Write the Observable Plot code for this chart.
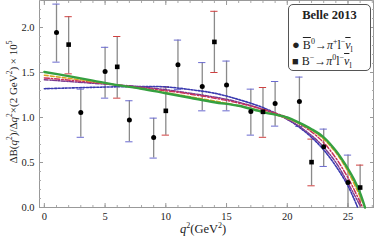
<!DOCTYPE html>
<html><head><meta charset="utf-8">
<script src="https://cdn.jsdelivr.net/npm/d3@7"></script>
<script src="https://cdn.jsdelivr.net/npm/@observablehq/plot@0.6"></script>
<style>
body{margin:0;background:#fff;}
#wrap{position:relative;width:374px;height:244px;font-family:"Liberation Serif",serif;color:#222;}
#legend{position:absolute;left:288px;top:4px;width:83px;height:67px;box-sizing:border-box;border:1px solid #555;border-radius:5px;background:#fff;font-size:12px;}
#legend .t{font-weight:bold;text-align:center;margin-top:4px;font-size:12.5px;line-height:1;}
#legend .r{position:absolute;left:3px;white-space:nowrap;line-height:1;}
#legend sup,#legend sub{font-size:8px;line-height:0;}
#xl{position:absolute;left:180px;top:222px;font-size:12.5px;}
#xl sup{font-size:8px;line-height:0;}
#yl{position:absolute;left:13px;top:102px;font-size:11px;white-space:nowrap;transform:translate(-50%,-50%) rotate(-90deg);}
#yl sup{font-size:7.5px;line-height:0;}
</style></head>
<body><div id="wrap"></div>
<script>
// Belle 2013, B0 -> pi+ l nu (circles)
const b0Q2 = [1,3,5,7,9,11,13,15,17,19,21,23,25];
const b0Val = [1.944,1.056,1.51,0.971,0.778,1.585,1.345,1.36,1.067,1.156,1.178,0.674,0.278];
const b0Hi = [2.26,1.315,1.78,1.186,0.993,1.86,1.61,1.627,1.315,1.40,1.449,0.871,0.582];
const b0Lo = [1.615,0.78,1.215,0.73,0.549,1.31,1.074,1.074,0.804,0.904,0.90,0.456,0.0];
// B- -> pi0 l nu (squares)
const bmQ2 = [2,6,10,14,18,22,26];
const bmVal = [1.81,1.563,1.074,1.84,1.063,0.504,0.222];
const bmHi = [2.12,1.90,1.341,2.18,1.333,0.76,0.471];
const bmLo = [1.485,1.215,0.804,1.50,0.78,0.241,0.0];
// theory curves
const greenQ = [0,2,4,6,8,10,12,14,16,18,20,21,22,23,24,25,25.5,26,26.4];
const greenV = [1.505,1.46,1.41,1.36,1.32,1.27,1.22,1.17,1.13,1.06,1.0,0.94,0.87,0.78,0.63,0.43,0.31,0.16,0.0];
const orangeQ = [0,4,8,12,16,20,22,23,24,25,26,26.4];
const orangeV = [1.47,1.40,1.32,1.23,1.13,0.99,0.86,0.76,0.61,0.40,0.12,0.0];
const redQ = [0,4,8,12,16,20,22,23,24,25,26,26.2];
const redV = [1.44,1.39,1.33,1.26,1.16,1.0,0.84,0.72,0.55,0.33,0.06,0.0];
const purpleQ = [0,4,8,12,16,20,22,23,24,25,26];
const purpleV = [1.42,1.38,1.34,1.27,1.17,0.98,0.80,0.67,0.50,0.27,0.02];
const blueQ = [0,4,8,10,12,14,16,18,20,21,22,23,24,25,25.8];
const blueV = [1.32,1.335,1.345,1.34,1.31,1.27,1.20,1.11,0.98,0.89,0.78,0.64,0.46,0.24,0.0];
const xTicks = [0,5,10,15,20,25];
const yTicks = [0,0.5,1.0,1.5,2.0];

const b0 = b0Q2.map((q,i)=>({x:q,y:b0Val[i],hi:b0Hi[i],lo:b0Lo[i]}));
const bm = bmQ2.map((q,i)=>({x:q,y:bmVal[i],hi:bmHi[i],lo:bmLo[i]}));
const curve = (Q,V)=>Q.map((q,i)=>({x:q,y:V[i]}));
const cap = 0.3;

const plot = Plot.plot({
  width:374, height:244,
  marginLeft:39, marginRight:1, marginTop:0, marginBottom:37,
  x:{domain:[-0.4,27.1]},
  y:{domain:[0,2.3]},
  style:{fontFamily:"Liberation Serif, serif", fontSize:"10.5px", color:"#222"},
  marks:[
    Plot.frame({stroke:"#999"}),
    Plot.axisX({ticks:d3.range(0,28,1), tickSize:-2, tickFormat:()=>"", stroke:"#aaa", label:null}),
    Plot.axisX({ticks:xTicks, tickSize:-4, tickPadding:9, tickFormat:d=>d, stroke:"#999", label:null}),
    Plot.axisX({anchor:"top", ticks:d3.range(0,28,1), tickSize:-2, tickFormat:()=>"", stroke:"#aaa", label:null}),
    Plot.axisX({anchor:"top", ticks:xTicks, tickSize:-4, tickFormat:()=>"", stroke:"#999", label:null}),
    Plot.axisY({ticks:d3.range(0,2.31,0.1), tickSize:-2, tickFormat:()=>"", stroke:"#aaa", label:null}),
    Plot.axisY({ticks:yTicks, tickSize:-4, tickPadding:9, tickFormat:d3.format(".1f"), stroke:"#999", label:null}),
    Plot.axisY({anchor:"right", ticks:d3.range(0,2.31,0.1), tickSize:-2, tickFormat:()=>"", stroke:"#aaa", label:null}),
    Plot.axisY({anchor:"right", ticks:yTicks, tickSize:-4, tickFormat:()=>"", stroke:"#999", label:null}),
    // error bars
    Plot.ruleX(b0,{x:"x", y1:"lo", y2:"hi", stroke:"#8a8a8a", strokeWidth:1.3}),
    Plot.ruleX(bm,{x:"x", y1:"lo", y2:"hi", stroke:"#8a8a8a", strokeWidth:1.3}),
    Plot.ruleY(b0,{y:"hi", x1:d=>d.x-cap, x2:d=>d.x+cap, stroke:"#6a6ad0", strokeWidth:1}),
    Plot.ruleY(b0.filter(d=>d.lo>0),{y:"lo", x1:d=>d.x-cap, x2:d=>d.x+cap, stroke:"#6a6ad0", strokeWidth:1}),
    Plot.ruleY(bm,{y:"hi", x1:d=>d.x-cap, x2:d=>d.x+cap, stroke:"#d04040", strokeWidth:1}),
    Plot.ruleY(bm.filter(d=>d.lo>0),{y:"lo", x1:d=>d.x-cap, x2:d=>d.x+cap, stroke:"#d04040", strokeWidth:1}),
    // curves
    Plot.line(curve(blueQ,blueV),{x:"x",y:"y",stroke:"#3a3ab0",strokeWidth:1.6,strokeDasharray:"2,1.5",curve:"catmull-rom"}),
    Plot.line(curve(purpleQ,purpleV),{x:"x",y:"y",stroke:"#7a3a90",strokeWidth:1.5,strokeDasharray:"4,1.5,1.5,1.5",curve:"catmull-rom"}),
    Plot.line(curve(redQ,redV),{x:"x",y:"y",stroke:"#c8305a",strokeWidth:1.5,strokeDasharray:"5,2,1.5,2",curve:"catmull-rom"}),
    Plot.line(curve(orangeQ,orangeV),{x:"x",y:"y",stroke:"#d9a520",strokeWidth:1.6,strokeDasharray:"4,2",curve:"catmull-rom"}),
    Plot.line(curve(greenQ,greenV),{x:"x",y:"y",stroke:"#35a040",strokeWidth:2.4,curve:"catmull-rom"}),
    // data points
    Plot.dot(b0,{x:"x",y:"y",symbol:"circle",r:2.5,fill:"#000",stroke:"none"}),
    Plot.dot(bm,{x:"x",y:"y",symbol:"square",r:2.6,fill:"#000",stroke:"none"})
  ]
});
const wrap = document.getElementById("wrap");
wrap.appendChild(plot);
wrap.insertAdjacentHTML("beforeend",
 `<div id="legend"><div class="t">Belle 2013</div>
   <div class="r" style="top:33px"><span style="font-size:13px">●</span> <span style="text-decoration:overline">B</span><sup>0</sup>→<i>π</i><sup>+</sup>l<sup>−</sup><i style="text-decoration:overline">ν</i><sub>l</sub></div>
   <div class="r" style="top:50px"><span style="font-size:11px">■</span> B<sup>−</sup>→<i>π</i><sup>0</sup>l<sup>−</sup><i style="text-decoration:overline">ν</i><sub>l</sub></div>
 </div>
 <div id="xl"><i>q</i><sup>2</sup>(GeV<sup>2</sup>)</div>
 <div id="yl">ΔB(<i>q</i><sup>2</sup>)/Δ<i>q</i><sup>2</sup>×(2 GeV<sup>2</sup>) × 10<sup>5</sup></div>`);
</script></body></html>
